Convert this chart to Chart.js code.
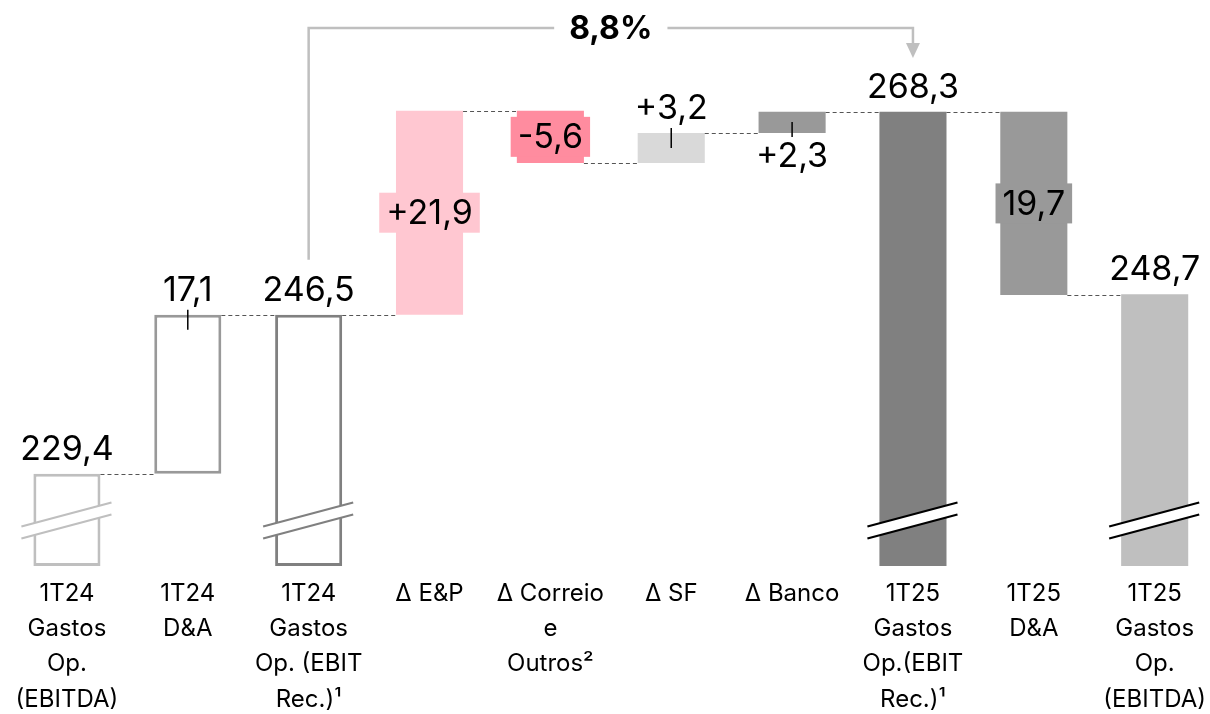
<!DOCTYPE html>
<html>
<head>
<meta charset="utf-8">
<script src="https://cdn.jsdelivr.net/npm/chart.js@4.4.1/dist/chart.umd.min.js"></script>
<style>
  html, body { margin: 0; padding: 0; background: #fff; overflow: hidden; }
  #caja { position: relative; width: 1216px; height: 714px; }
</style>
</head>
<body>
<div id="caja"><canvas id="grafica"></canvas></div>
<script>
// categorias del eje x (multilinea)
const categorias = [
    ['1T24', 'Gastos', 'Op.', '(EBITDA)'],
    ['1T24', 'D&A'],
    ['1T24', 'Gastos', 'Op. (EBIT', 'Rec.)¹'],
    ['Δ E&P'],
    ['Δ Correio', 'e', 'Outros²'],
    ['Δ SF'],
    ['Δ Banco'],
    ['1T25', 'Gastos', 'Op.(EBIT', 'Rec.)¹'],
    ['1T25', 'D&A'],
    ['1T25', 'Gastos', 'Op.', '(EBITDA)']
];
// totales y variaciones
const valores = [229.4, 17.1, 246.5, 21.9, -5.6, 3.2, 2.3, 268.3, -19.7, 248.7];
const esTotal = [true, false, true, false, false, false, false, true, false, true];
const etiquetas = ['229,4', '17,1', '246,5', '+21,9', '-5,6', '+3,2', '+2,3', '268,3', '19,7', '248,7'];
const variacion = '8,8%';

// eje y cortado
const ejeMin = 219.5;
const ejeMax = 280.3;
const valorCorte = 224.4;

const rellenos = ['#ffffff', '#ffffff', '#ffffff', '#ffc7d1', '#ff8c9f', '#d9d9d9', '#999999', '#808080', '#999999', '#bfbfbf'];
const bordes = ['#bfbfbf', '#999999', '#808080', '#ffc7d1', '#ff8c9f', '#d9d9d9', '#999999', '#808080', '#999999', '#bfbfbf'];
const grosor = [3, 3, 3, 0, 0, 0, 0, 0, 0, 0];
const posEtiqueta = ['arriba', 'arriba', 'arriba', 'dentro', 'dentro', 'arriba', 'abajo', 'arriba', 'dentro', 'arriba'];
const guia = [false, true, false, false, false, true, true, false, false, false];
const cortes = [0, 2, 7, 9];
const coloresCorte = ['#bfbfbf', '#808080', '#000000', '#000000'];

// rangos flotantes y niveles acumulados
var rangos = [];
var niveles = [];
var nivel = 0;
for (var i = 0; i < valores.length; i++) {
    if (esTotal[i]) {
        rangos.push([ejeMin, valores[i]]);
        nivel = valores[i];
    } else {
        var nuevo = Math.round((nivel + valores[i]) * 10) / 10;
        rangos.push([Math.min(nivel, nuevo), Math.max(nivel, nuevo)]);
        nivel = nuevo;
    }
    niveles.push(nivel);
}

const extras = {
    id: 'extras',
    afterDatasetsDraw(chart) {
        var ctx = chart.ctx;
        var ey = chart.scales.y;
        var barras = chart.getDatasetMeta(0).data;
        ctx.save();

        // lineas de conexion
        ctx.strokeStyle = '#555555';
        ctx.lineWidth = 1;
        ctx.setLineDash([4, 3]);
        for (var i = 0; i < barras.length - 1; i++) {
            var yy = Math.round(ey.getPixelForValue(niveles[i])) + 0.5;
            ctx.beginPath();
            ctx.moveTo(barras[i].x + barras[i].width / 2, yy);
            ctx.lineTo(barras[i + 1].x - barras[i + 1].width / 2, yy);
            ctx.stroke();
        }
        ctx.setLineDash([]);

        // marcas de corte
        cortes.forEach(function (c, k) {
            var b = barras[c];
            var cy = ey.getPixelForValue(valorCorte);
            var x0 = b.x - b.width / 2 - 12;
            var x1 = b.x + b.width / 2 + 11;
            var m = 0.267;
            var yEn = function (x, off) { return cy + off - m * (x - b.x); };
            ctx.fillStyle = '#ffffff';
            ctx.beginPath();
            ctx.moveTo(x0, yEn(x0, -6));
            ctx.lineTo(x1, yEn(x1, -6));
            ctx.lineTo(x1, yEn(x1, 6));
            ctx.lineTo(x0, yEn(x0, 6));
            ctx.closePath();
            ctx.fill();
            ctx.strokeStyle = coloresCorte[k];
            ctx.lineWidth = 2.2;
            [-6, 6].forEach(function (off) {
                ctx.beginPath();
                ctx.moveTo(x0, yEn(x0, off));
                ctx.lineTo(x1, yEn(x1, off));
                ctx.stroke();
            });
        });

        // etiquetas de valor
        ctx.font = '34px Inter';
        ctx.textAlign = 'center';
        ctx.textBaseline = 'middle';
        barras.forEach(function (b, i) {
            var arriba = Math.min(b.y, b.base);
            var abajo = Math.max(b.y, b.base);
            var ty;
            if (posEtiqueta[i] === 'arriba') ty = arriba - 25;
            else if (posEtiqueta[i] === 'abajo') ty = abajo + 23;
            else ty = (arriba + abajo) / 2;
            if (posEtiqueta[i] === 'dentro') {
                var w = ctx.measureText(etiquetas[i]).width;
                ctx.fillStyle = rellenos[i];
                ctx.fillRect(b.x - w / 2 - 7, ty - 20, w + 14, 40);
            }
            ctx.fillStyle = '#000000';
            ctx.fillText(etiquetas[i], b.x, ty + 1);
            if (guia[i]) {
                ctx.strokeStyle = '#000000';
                ctx.lineWidth = 1.5;
                ctx.beginPath();
                if (posEtiqueta[i] === 'arriba') {
                    ctx.moveTo(b.x, arriba - 5);
                    ctx.lineTo(b.x, arriba + 15);
                } else {
                    ctx.moveTo(b.x, abajo + 4);
                    ctx.lineTo(b.x, abajo - 11);
                }
                ctx.stroke();
            }
        });

        // flecha de variacion
        var bx0 = barras[2].x;
        var bx1 = barras[7].x;
        var ly = 28;
        var cx = (bx0 + bx1) / 2;
        ctx.font = 'bold 32px Inter';
        var tw = ctx.measureText(variacion).width;
        ctx.strokeStyle = '#bfbfbf';
        ctx.lineWidth = 2.5;
        ctx.beginPath();
        ctx.moveTo(bx0, ey.getPixelForValue(valores[2]) - 55);
        ctx.lineTo(bx0, ly);
        ctx.lineTo(cx - tw / 2 - 15, ly);
        ctx.moveTo(cx + tw / 2 + 15, ly);
        ctx.lineTo(bx1, ly);
        ctx.lineTo(bx1, 45);
        ctx.stroke();
        ctx.fillStyle = '#bfbfbf';
        ctx.beginPath();
        ctx.moveTo(bx1 - 7, 43);
        ctx.lineTo(bx1 + 7, 43);
        ctx.lineTo(bx1, 58);
        ctx.closePath();
        ctx.fill();
        ctx.fillStyle = '#000000';
        ctx.fillText(variacion, cx, ly + 1);

        ctx.restore();
    }
};

var ctx = document.getElementById('grafica').getContext('2d');
new Chart(ctx, {
    type: 'bar',
    data: {
        labels: categorias,
        datasets: [{
            data: rangos,
            backgroundColor: rellenos,
            borderColor: bordes,
            borderWidth: grosor,
            borderSkipped: false,
            barPercentage: 0.555,
            categoryPercentage: 1
        }]
    },
    options: {
        responsive: true,
        maintainAspectRatio: false,
        animation: false,
        layout: { padding: { left: 6.5, right: 0, top: 0, bottom: 0 } },
        plugins: { legend: { display: false }, tooltip: { enabled: false } },
        scales: {
            x: {
                grid: { display: false, drawTicks: false },
                border: { display: false },
                ticks: {
                    color: '#000000',
                    font: { family: 'Inter', size: 24, lineHeight: 1.47 },
                    padding: 10,
                    maxRotation: 0,
                    autoSkip: false
                },
                afterFit: function (s) { s.height = 148; }
            },
            y: {
                display: false,
                min: ejeMin,
                max: ejeMax
            }
        }
    },
    plugins: [extras]
});
</script>
</body>
</html>
